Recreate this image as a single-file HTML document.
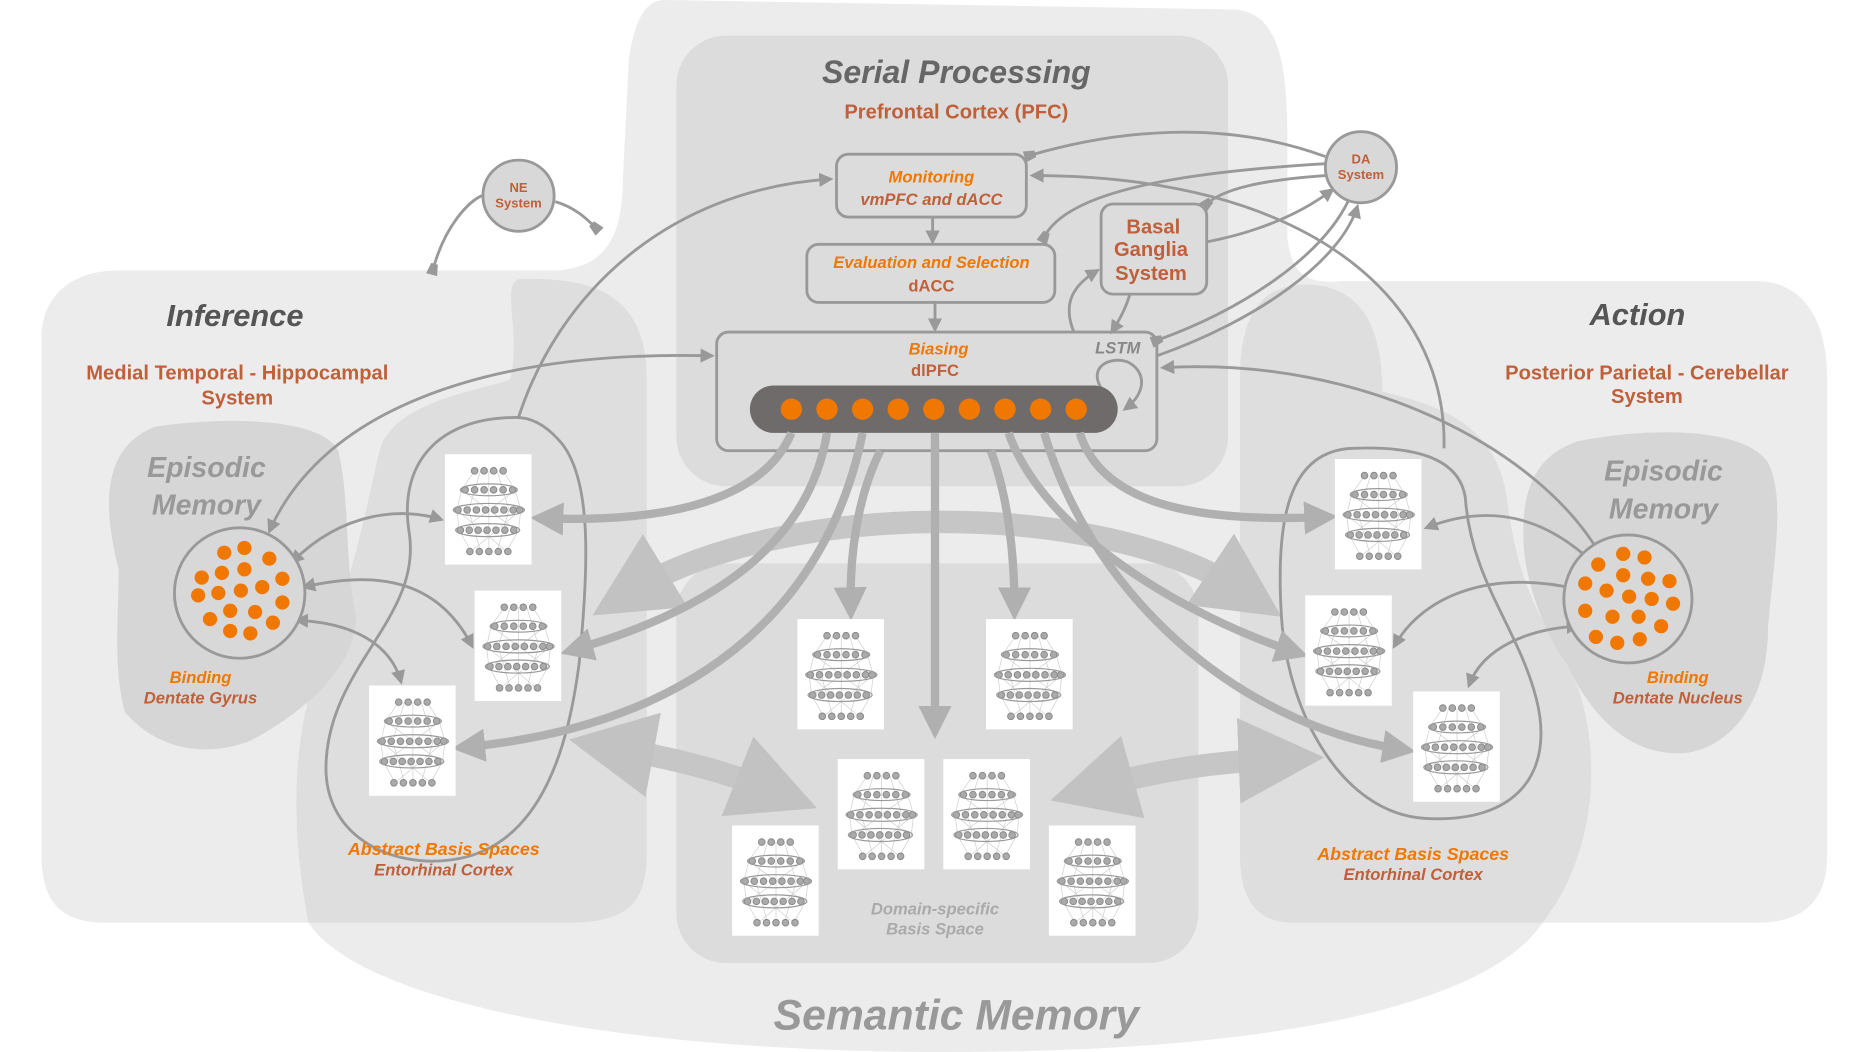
<!DOCTYPE html>
<html><head><meta charset="utf-8"><style>
html,body{margin:0;padding:0;background:#fff;width:1851px;height:1052px;overflow:hidden}
svg{display:block}
text{font-family:"Liberation Sans",sans-serif;font-weight:bold;text-anchor:middle}
.it{font-style:italic}
.or{fill:#f07800}
.br{fill:#c0603a}
.thin{fill:none;stroke:#999;stroke-width:2.4}
.thick{fill:none;stroke:#b0b0b0;stroke-width:7}
.big{fill:none;stroke:#c6c6c6;stroke-width:19}
</style></head><body>
<svg width="1851" height="1052" viewBox="0 0 1560 887" preserveAspectRatio="none" xmlns="http://www.w3.org/2000/svg">
<defs>
<marker id="a" viewBox="0 0 10 10" refX="8" refY="5" markerWidth="5" markerHeight="5" orient="auto-start-reverse"><path d="M0,0 L10,5 L0,10 Z" fill="#999"/></marker>
<marker id="d" viewBox="0 0 10 10" refX="5" refY="5" markerWidth="4" markerHeight="4" orient="auto-start-reverse"><path d="M0,2 L10,0 L10,10 L0,8 Z" fill="#999"/></marker>
<marker id="t" viewBox="0 0 10 10" refX="6" refY="5" markerWidth="4" markerHeight="4" orient="auto-start-reverse"><path d="M0,0 L10,5 L0,10 Z" fill="#b0b0b0"/></marker>
<marker id="b" viewBox="0 0 10 10" refX="5" refY="5" markerWidth="3.8" markerHeight="4" orient="auto-start-reverse"><path d="M0,0 L10,5 L0,10 Z" fill="#c2c2c2"/></marker>
<g id="net">
<rect x="0" y="0" width="73" height="93" fill="#fff"/>
<g stroke="#d0d0d0" stroke-width="0.6" fill="none">
<path d="M25,14 L14,30 L10,47 L12,64 L22,82 M49,14 L59,30 L64,47 L62,64 L52,82 M37,14 L37,82 M30,14 L20,47 L30,82 M44,14 L54,47 L44,82 M14,30 L60,64 M60,30 L14,64 M10,47 L52,82 M64,47 L22,82"/>
</g>
<g fill="#aaa" stroke="#888" stroke-width="0.8">
<circle cx="25" cy="14" r="2.8"/><circle cx="33" cy="14" r="2.8"/><circle cx="41" cy="14" r="2.8"/><circle cx="49" cy="14" r="2.8"/>
<circle cx="17" cy="30" r="2.8"/><circle cx="25" cy="30" r="2.8"/><circle cx="33" cy="30" r="2.8"/><circle cx="41" cy="30" r="2.8"/><circle cx="49" cy="30" r="2.8"/><circle cx="57" cy="30" r="2.8"/>
<circle cx="11" cy="47" r="2.8"/><circle cx="18.7" cy="47" r="2.8"/><circle cx="26.5" cy="47" r="2.8"/><circle cx="34.2" cy="47" r="2.8"/><circle cx="42" cy="47" r="2.8"/><circle cx="49.7" cy="47" r="2.8"/><circle cx="57.5" cy="47" r="2.8"/><circle cx="63" cy="47" r="2.8"/>
<circle cx="13" cy="64" r="2.8"/><circle cx="20.5" cy="64" r="2.8"/><circle cx="28" cy="64" r="2.8"/><circle cx="35.5" cy="64" r="2.8"/><circle cx="43" cy="64" r="2.8"/><circle cx="50.5" cy="64" r="2.8"/><circle cx="58" cy="64" r="2.8"/>
<circle cx="21" cy="82" r="2.8"/><circle cx="29" cy="82" r="2.8"/><circle cx="37" cy="82" r="2.8"/><circle cx="45" cy="82" r="2.8"/><circle cx="53" cy="82" r="2.8"/>
</g>
<g fill="none" stroke="#999" stroke-width="1">
<ellipse cx="37" cy="30" rx="24" ry="5"/><ellipse cx="37" cy="47" rx="30" ry="5.5"/><ellipse cx="36" cy="64" rx="27" ry="5.5"/>
</g>
</g>
</defs>

<g fill="#ececec">
<path d="M560,0 L1040,8 C1080,10 1085,60 1085,120 L1085,200 C1088,230 1100,240 1130,237 L1480,237 C1520,237 1540,270 1540,320 L1540,720 C1540,760 1520,778 1480,778 L1300,778 C1260,840 1100,887 800,887 C500,887 300,840 260,778 L90,778 C50,778 35,760 35,720 L35,285 C35,250 60,228 100,228 L470,228 C510,225 525,200 525,150 L530,50 C535,15 545,0 560,0 Z"/>
</g>
<g fill="#dedede">
<path d="M440,235 C490,235 545,240 545,320 L545,720 C545,760 530,778 480,778 L260,778 C245,700 245,620 270,560 C300,480 310,420 320,380 C330,340 400,330 430,320 C440,280 420,236 440,235 Z"/>
<path d="M1100,240 C1150,240 1165,280 1165,330 C1200,340 1260,350 1270,420 C1280,500 1300,520 1330,580 C1350,640 1345,720 1300,778 L1090,778 C1060,778 1045,760 1045,720 L1045,320 C1045,270 1060,240 1100,240 Z"/>
<rect x="570" y="30" width="465" height="380" rx="42" fill="#dcdcdc"/>
<rect x="570" y="475" width="440" height="337" rx="42" fill="#dcdcdc"/>
</g>
<g fill="#d6d6d6">
<path d="M130,360 C180,352 270,350 285,380 C295,420 290,470 300,520 C300,570 240,610 210,625 C170,640 130,630 105,600 C95,560 100,520 100,480 C90,440 80,380 130,360 Z"/>
<path d="M1330,372 C1390,360 1470,360 1490,390 C1505,420 1495,470 1490,530 C1490,590 1460,630 1420,635 C1370,638 1340,600 1320,560 C1300,530 1290,500 1285,470 C1280,420 1290,385 1330,372 Z"/>
</g>

<path class="big" d="M530,500 C660,420 930,420 1050,500" marker-start="url(#b)" marker-end="url(#b)"/>
<path class="big" d="M515,630 C570,640 610,650 655,668" marker-start="url(#b)" marker-end="url(#b)"/>
<path class="big" d="M920,665 C980,648 1030,642 1080,640" marker-start="url(#b)" marker-end="url(#b)"/>

<path class="thin" d="M435,352 C370,352 335,390 345,450 C355,520 280,560 275,640 C270,705 330,732 380,725 C460,715 480,620 488,560 C496,480 500,400 470,370 C458,357 446,352 435,352 Z"/>
<path class="thin" d="M1140,378 C1085,380 1075,440 1080,520 C1085,600 1130,685 1200,690 C1280,695 1310,650 1295,590 C1280,530 1240,490 1235,420 C1230,385 1190,376 1140,378 Z"/>
<path class="thin" d="M437,352 C470,250 560,160 700,151" marker-end="url(#a)"/>
<path class="thin" d="M600,300 C400,295 270,350 227,448" marker-start="url(#a)" marker-end="url(#a)"/>
<path class="thin" d="M246,474 C290,430 340,428 372,438" marker-start="url(#a)" marker-end="url(#a)"/>
<path class="thin" d="M256,495 C320,480 370,490 398,545" marker-start="url(#a)" marker-end="url(#a)"/>
<path class="thin" d="M250,523 C300,525 330,545 338,575" marker-start="url(#a)" marker-end="url(#a)"/>
<path class="thin" d="M365,227 C375,190 395,170 406,165" marker-start="url(#d)"/>
<path class="thin" d="M468,170 C485,175 495,185 502,192" marker-end="url(#d)"/>
<path class="thin" d="M1117,132 C1030,100 940,110 868,131" marker-end="url(#d)"/>
<path class="thin" d="M1217,378 C1220,250 1100,148 870,148" marker-end="url(#a)"/>
<path class="thin" d="M1117,138 C1000,145 900,160 880,200" marker-end="url(#d)"/>
<path class="thin" d="M1117,148 C1060,152 1030,160 1017,172" marker-end="url(#d)"/>
<path class="thin" d="M970,210 C1040,205 1090,185 1123,160" marker-end="url(#a)"/>
<path class="thin" d="M975,287 C1050,260 1115,215 1137,168" marker-start="url(#d)"/>
<path class="thin" d="M975,300 C1060,270 1130,220 1144,174" marker-end="url(#a)"/>
<path class="thin" d="M905,280 C895,255 905,240 925,228" marker-end="url(#a)"/>
<path class="thin" d="M952,249 C948,262 942,272 937,280" marker-end="url(#a)"/>
<path class="thin" d="M786,184 L786,204" marker-end="url(#a)"/>
<path class="thin" d="M788,256 L788,278" marker-end="url(#a)"/>
<path class="thin" d="M930,330 C915,310 935,300 950,305 C965,312 968,330 948,345" marker-end="url(#a)"/>
<path class="thin" d="M980,310 C1150,300 1300,380 1350,470" marker-start="url(#a)" marker-end="url(#a)"/>
<path class="thin" d="M1342,474 C1290,425 1240,430 1202,445" marker-start="url(#a)" marker-end="url(#a)"/>
<path class="thin" d="M1330,497 C1260,480 1200,500 1175,545" marker-start="url(#a)" marker-end="url(#a)"/>
<path class="thin" d="M1330,528 C1290,530 1250,545 1238,578" marker-start="url(#a)" marker-end="url(#a)"/>

<circle cx="437" cy="165" r="30" fill="#d8d8d8" stroke="#999" stroke-width="2.4"/>
<circle cx="1147" cy="141" r="30" fill="#d8d8d8" stroke="#999" stroke-width="2.4"/>
<text x="437" y="162" font-size="11" class="br">NE</text><text x="437" y="175" font-size="11" class="br">System</text>
<text x="1147" y="138" font-size="11" class="br">DA</text><text x="1147" y="151" font-size="11" class="br">System</text>
<rect x="705" y="130" width="160" height="53" rx="10" fill="#dcdcdc" stroke="#999" stroke-width="2.4"/>
<rect x="680" y="206" width="209" height="49" rx="10" fill="#dcdcdc" stroke="#999" stroke-width="2.4"/>
<rect x="928" y="172" width="89" height="76" rx="10" fill="#dcdcdc" stroke="#999" stroke-width="2.4"/>
<rect x="604" y="280" width="371" height="100" rx="10" fill="none" stroke="#999" stroke-width="2.4"/>
<rect x="632" y="325" width="310" height="40" rx="20" fill="#706b6b"/>
<g fill="#f07800">
<circle cx="667" cy="345" r="9"/><circle cx="697" cy="345" r="9"/><circle cx="727" cy="345" r="9"/><circle cx="757" cy="345" r="9"/><circle cx="787" cy="345" r="9"/><circle cx="817" cy="345" r="9"/><circle cx="847" cy="345" r="9"/><circle cx="877" cy="345" r="9"/><circle cx="907" cy="345" r="9"/>
</g>

<path class="thick" d="M667,365 C640,430 540,440 458,437" marker-end="url(#t)"/>
<path class="thick" d="M697,365 C680,470 580,520 483,548" marker-end="url(#t)"/>
<path class="thick" d="M727,365 C700,500 600,610 392,630" marker-end="url(#t)"/>
<path class="thick" d="M742,380 C722,420 716,470 717,512" marker-end="url(#t)"/>
<path class="thick" d="M788,365 L788,612" marker-end="url(#t)"/>
<path class="thick" d="M835,380 C850,420 855,470 855,512" marker-end="url(#t)"/>
<path class="thick" d="M850,365 C880,450 1000,520 1092,550" marker-end="url(#t)"/>
<path class="thick" d="M880,365 C920,500 1040,610 1182,632" marker-end="url(#t)"/>
<path class="thick" d="M910,365 C930,430 1020,440 1116,436" marker-end="url(#t)"/>

<circle cx="202" cy="500" r="55" fill="#d8d8d8" stroke="#999" stroke-width="2.4"/>
<g fill="#f07800">
<circle cx="189" cy="466" r="6"/><circle cx="206" cy="462" r="6"/><circle cx="227" cy="471" r="6"/>
<circle cx="170" cy="487" r="6"/><circle cx="187" cy="483" r="6"/><circle cx="206" cy="480" r="6"/><circle cx="238" cy="488" r="6"/>
<circle cx="167" cy="502" r="6"/><circle cx="184" cy="500" r="6"/><circle cx="203" cy="498" r="6"/><circle cx="221" cy="495" r="6"/><circle cx="238" cy="508" r="6"/>
<circle cx="177" cy="522" r="6"/><circle cx="194" cy="515" r="6"/><circle cx="215" cy="516" r="6"/><circle cx="230" cy="525" r="6"/>
<circle cx="194" cy="532" r="6"/><circle cx="211" cy="534" r="6"/>
</g>
<circle cx="1372" cy="505" r="54" fill="#d8d8d8" stroke="#999" stroke-width="2.4"/>
<g fill="#f07800">
<circle cx="1368" cy="467" r="6"/><circle cx="1386" cy="470" r="6"/>
<circle cx="1347" cy="476" r="6"/><circle cx="1368" cy="485" r="6"/><circle cx="1389" cy="488" r="6"/><circle cx="1407" cy="490" r="6"/>
<circle cx="1336" cy="492" r="6"/><circle cx="1354" cy="498" r="6"/><circle cx="1373" cy="503" r="6"/><circle cx="1392" cy="505" r="6"/><circle cx="1410" cy="509" r="6"/>
<circle cx="1336" cy="515" r="6"/><circle cx="1359" cy="520" r="6"/><circle cx="1381" cy="520" r="6"/><circle cx="1400" cy="528" r="6"/>
<circle cx="1345" cy="537" r="6"/><circle cx="1363" cy="542" r="6"/><circle cx="1382" cy="539" r="6"/>
</g>

<use href="#net" x="375" y="383"/><use href="#net" x="400" y="498"/><use href="#net" x="311" y="578"/>
<use href="#net" x="672" y="522"/><use href="#net" x="831" y="522"/><use href="#net" x="706" y="640"/><use href="#net" x="795" y="640"/><use href="#net" x="617" y="696"/><use href="#net" x="884" y="696"/>
<use href="#net" x="1125" y="387"/><use href="#net" x="1100" y="502"/><use href="#net" x="1191" y="583"/>

<text x="806" y="70" font-size="27" class="it" fill="#666">Serial Processing</text>
<text x="806" y="100" font-size="17" class="br">Prefrontal Cortex (PFC)</text>
<text x="785" y="154" font-size="14" class="it or">Monitoring</text>
<text x="785" y="173" font-size="14" class="it br">vmPFC and dACC</text>
<text x="785" y="226" font-size="14" class="it or">Evaluation and Selection</text>
<text x="785" y="246" font-size="14" class="br">dACC</text>
<text x="972" y="197" font-size="17" class="br">Basal</text>
<text x="970" y="216" font-size="17" class="br">Ganglia</text>
<text x="970" y="236" font-size="17" class="br">System</text>
<text x="791" y="299" font-size="14" class="it or">Biasing</text>
<text x="788" y="317" font-size="14" class="br">dlPFC</text>
<text x="942" y="298" font-size="14" class="it" fill="#888">LSTM</text>
<text x="198" y="275" font-size="26" class="it" fill="#555">Inference</text>
<text x="200" y="320" font-size="17" class="br">Medial Temporal - Hippocampal</text>
<text x="200" y="341" font-size="17" class="br">System</text>
<text x="1380" y="274" font-size="26" class="it" fill="#555">Action</text>
<text x="1388" y="320" font-size="17" class="br">Posterior Parietal - Cerebellar</text>
<text x="1388" y="340" font-size="17" class="br">System</text>
<text x="174" y="402" font-size="24" class="it" fill="#999">Episodic</text>
<text x="174" y="434" font-size="24" class="it" fill="#999">Memory</text>
<text x="1402" y="405" font-size="24" class="it" fill="#999">Episodic</text>
<text x="1402" y="437" font-size="24" class="it" fill="#999">Memory</text>
<text x="169" y="576" font-size="14" class="it or">Binding</text>
<text x="169" y="593" font-size="14" class="it br">Dentate Gyrus</text>
<text x="1414" y="576" font-size="14" class="it or">Binding</text>
<text x="1414" y="593" font-size="14" class="it br">Dentate Nucleus</text>
<text x="374" y="721" font-size="15" class="it or">Abstract Basis Spaces</text>
<text x="374" y="738" font-size="14" class="it br">Entorhinal Cortex</text>
<text x="1191" y="725" font-size="15" class="it or">Abstract Basis Spaces</text>
<text x="1191" y="742" font-size="14" class="it br">Entorhinal Cortex</text>
<text x="788" y="771" font-size="14" class="it" fill="#aaa">Domain-specific</text>
<text x="788" y="788" font-size="14" class="it" fill="#aaa">Basis Space</text>
<text x="806" y="868" font-size="36" class="it" fill="#999">Semantic Memory</text>
</svg>
</body></html>
